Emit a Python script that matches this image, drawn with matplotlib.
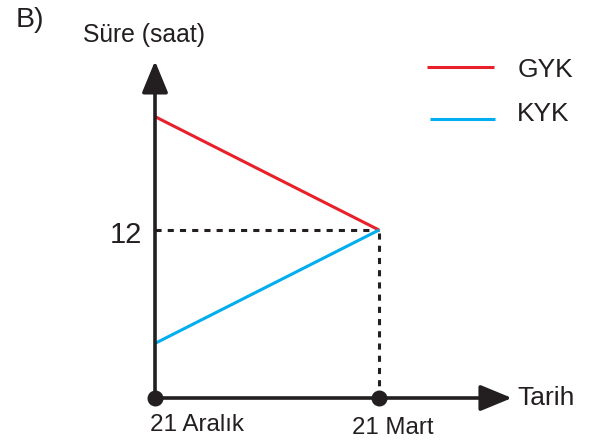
import matplotlib
matplotlib.use('Agg')
import matplotlib.pyplot as plt

plt.rcParams['font.family'] = ['Liberation Sans', 'DejaVu Sans']

# data
dates = ['21 Aralık', '21 Mart']
days = [0, 90]          # days after 21 Aralık
gyk = [20.1, 12]        # gündüz süresi (saat)
kyk = [3.9, 12]         # gece süresi (saat)
mark_hour = 12

RED = '#e8202a'
BLUE = '#00aeef'
INK = '#231f20'

fig = plt.figure(figsize=(6.02, 4.48), dpi=100)
ax = fig.add_axes([0, 0, 1, 1])
ax.set_xlim(-62.28, 179.6)
ax.set_ylim(-3.571, 28.43)
ax.axis('off')

# series
ax.plot(days, gyk, color=RED, lw=2.2, solid_capstyle='butt', zorder=3)
ax.plot(days, kyk, color=BLUE, lw=2.2, solid_capstyle='butt', zorder=3)

# dashed guides at 12 hours
ax.plot([days[0], days[1]], [mark_hour, mark_hour], color=INK, lw=2.2,
        dashes=(2, 2), zorder=2)
ax.plot([days[1], days[1]], [0, mark_hour], color=INK, lw=2.2,
        dashes=(2, 2), zorder=2)

# axes with arrows
arrow = dict(arrowstyle='-|>,head_length=0.97,head_width=0.4',
             mutation_scale=20, lw=2.6, color=INK, shrinkA=0, shrinkB=0)
ax.annotate('', xy=(0, 24.07), xytext=(0, 0), arrowprops=arrow, zorder=4)
ax.annotate('', xy=(143.4, 0), xytext=(0, 0), arrowprops=arrow, zorder=4)

# date dots and labels
ax.plot(days, [0, 0], 'o', color=INK, ms=10.5, zorder=5)
ax.text(-2, -2.36, dates[0], fontsize=17.5, color=INK, ha='left', va='baseline')
ax.text(79, -2.57, dates[1], fontsize=17.3, color=INK, ha='left', va='baseline')

ax.text(145.5, -0.5, 'Tarih', fontsize=19, color=INK, ha='left', va='baseline')
ax.text(-5, 11.07, '12', fontsize=21, color=INK, ha='right', va='baseline')
ax.text(-29, 25.43, 'Süre (saat)', fontsize=17.8, color=INK, ha='left', va='baseline')
ax.text(-56, 26.5, 'B)', fontsize=20.5, color=INK, ha='left', va='baseline')

# legend
ax.plot([109.3, 136.3], [23.64, 23.64], color=RED, lw=2.2, solid_capstyle='butt')
ax.plot([110.5, 136.7], [19.93, 19.93], color=BLUE, lw=2.2, solid_capstyle='butt')
ax.text(145.5, 22.93, 'GYK', fontsize=19, color=INK, ha='left', va='baseline')
ax.text(145.5, 19.79, 'KYK', fontsize=19, color=INK, ha='left', va='baseline')

fig.savefig('out.png', dpi=100)
